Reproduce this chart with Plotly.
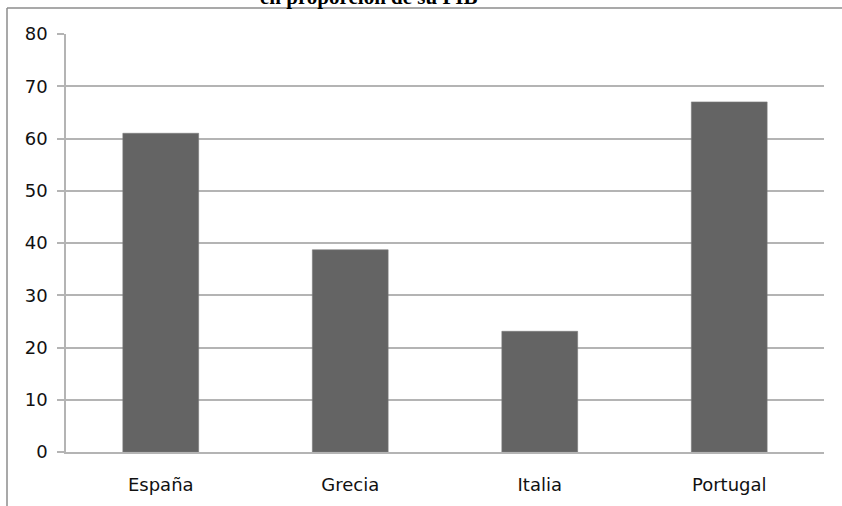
import plotly.graph_objects as go

# Datos
paises = ["España", "Grecia", "Italia", "Portugal"]
valores = [61.0, 38.7, 23.1, 67.0]
y_ticks = [0, 10, 20, 30, 40, 50, 60, 70, 80]

W, H = 842, 506
L, R, T, B = 66, 18, 34, 54
plot_w = W - L - R
plot_h = H - T - B


def px_x(px):
    return (px - L) / plot_w


def px_y(py):
    return (H - B - py) / plot_h


fig = go.Figure()
fig.add_trace(go.Bar(
    x=paises,
    y=valores,
    width=0.4,
    marker=dict(color="#646464", line=dict(color="#7a7a7a", width=0.6)),
))

grid = "#b4b4b4"
fig.update_layout(
    width=W,
    height=H,
    margin=dict(l=L, r=R, t=T, b=B),
    paper_bgcolor="white",
    plot_bgcolor="white",
    showlegend=False,
    bargap=0.6,
    font=dict(family="DejaVu Sans", size=18, color="#111111"),
    xaxis=dict(
        showgrid=False,
        showline=True,
        linecolor=grid,
        linewidth=1.5,
        ticks="",
        tickfont=dict(size=18),
        ticklabelstandoff=16,
    ),
    yaxis=dict(
        range=[0, 80],
        tickvals=y_ticks,
        showgrid=True,
        gridcolor=grid,
        gridwidth=1.5,
        showline=True,
        linecolor=grid,
        linewidth=1.5,
        ticks="outside",
        ticklen=7,
        tickcolor=grid,
        tickwidth=1.5,
        zeroline=False,
        tickfont=dict(size=18),
        ticklabelstandoff=6,
    ),
)

# Marco del gráfico
frame = "#8c8c8c"
fig.add_shape(type="line", xref="paper", yref="paper",
              x0=px_x(7), x1=px_x(W + 5), y0=px_y(8), y1=px_y(8),
              line=dict(color=frame, width=1.5))
fig.add_shape(type="line", xref="paper", yref="paper",
              x0=px_x(7), x1=px_x(7), y0=px_y(8), y1=px_y(H + 5),
              line=dict(color=frame, width=1.5))

# Título
fig.add_annotation(
    text="en proporción de su PIB",
    xref="paper", yref="paper",
    x=px_x(368), y=px_y(11),
    xanchor="center", yanchor="bottom",
    showarrow=False,
    font=dict(family="Liberation Serif", size=21, color="black", weight="bold"),
)

fig.write_html("out.html")
